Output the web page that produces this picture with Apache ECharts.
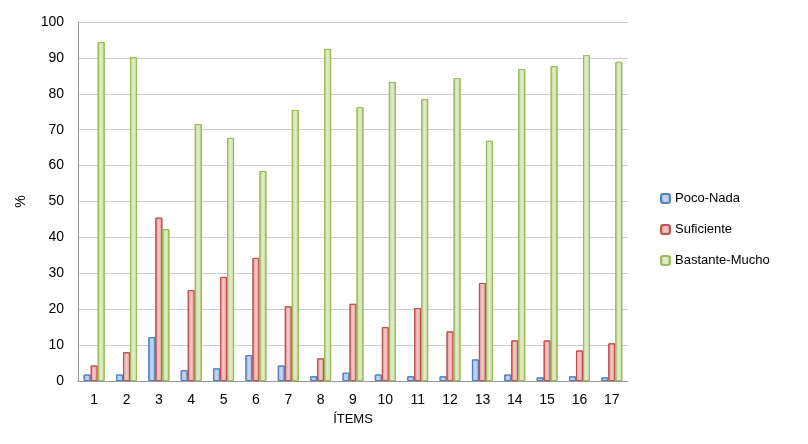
<!DOCTYPE html>
<html><head><meta charset="utf-8">
<script src="https://cdn.jsdelivr.net/npm/echarts@6/dist/echarts.min.js"></script>
<style>html,body{margin:0;background:#fff}#c{width:808px;height:444px}</style>
</head><body><div id="c"></div>
<script>
const categories=['1','2','3','4','5','6','7','8','9','10','11','12','13','14','15','16','17'];
const pocoNada=[1.8,1.8,12.2,3,3.5,7.2,4.3,1.3,2.3,1.8,1.3,1.3,6,1.8,1,1.3,1];
const suficiente=[4.3,8,45.5,25.3,29,34.3,20.8,6.3,21.5,15,20.3,13.8,27.3,11.3,11.3,8.5,10.5];
const bastante=[94.4,90.2,42.3,71.6,67.7,58.5,75.5,92.5,76.3,83.3,78.5,84.4,66.9,86.9,87.7,90.8,88.9];
function grad(a,b){return new echarts.graphic.LinearGradient(0,0,1,0,[{offset:0,color:a},{offset:0.5,color:b},{offset:1,color:a}]);}
function s(name,data,fillA,fillB,border){return {name,type:'bar',data,barWidth:7,barGap:'0%',
 itemStyle:{color:grad(fillA,fillB),borderColor:border,borderWidth:1}};}
const chart=echarts.init(document.getElementById('c'));
chart.setOption({
 textStyle:{fontFamily:'Liberation Sans, Arial'},
 grid:{left:78,right:180,top:22,bottom:63},
 legend:{orient:'vertical',left:655,top:187,itemGap:18,itemWidth:9,itemHeight:9,
  textStyle:{fontSize:13,color:'#000'},
  data:['Poco-Nada','Suficiente','Bastante-Mucho']},
 xAxis:{type:'category',data:categories,name:'ÍTEMS',nameLocation:'middle',nameGap:32,
  nameTextStyle:{fontSize:13,color:'#000'},
  axisLine:{lineStyle:{color:'#999'}},axisTick:{show:false},
  axisLabel:{fontSize:14,color:'#000',margin:12}},
 yAxis:{type:'value',min:0,max:100,interval:10,name:'%',nameLocation:'middle',nameGap:50,
  nameTextStyle:{fontSize:14,color:'#000'},
  axisLine:{show:true,lineStyle:{color:'#999'}},
  axisLabel:{fontSize:14,color:'#000',margin:14},
  splitLine:{lineStyle:{color:'#ccc'}}},
 series:[
  s('Poco-Nada',pocoNada,'#8eb0dc','#c8daf1','#4f81bd'),
  s('Suficiente',suficiente,'#e08b89','#f4cccb','#c0504d'),
  s('Bastante-Mucho',bastante,'#bcd48f','#e3eecd','#9bbb59')
 ]
});
</script></body></html>
